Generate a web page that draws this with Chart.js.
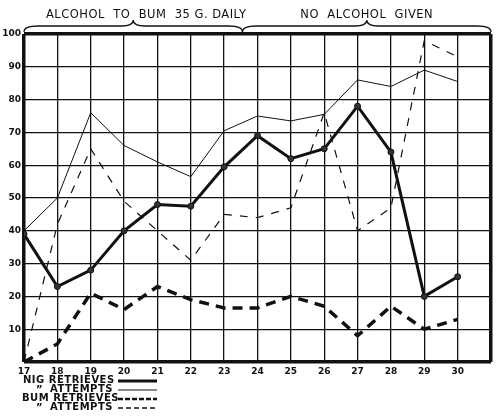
<!DOCTYPE html>
<html>
<head>
<meta charset="utf-8">
<script src="https://cdn.jsdelivr.net/npm/chart.js@4"></script>
<style>
    html, body { margin: 0; padding: 0; background: #fff; }
    #wrap { width: 500px; height: 416px; position: relative; }
</style>
</head>
<body>
<div id="wrap"><canvas id="chartPerros"></canvas></div>
<script>
// ===== DATOS =====
const dias = [17, 18, 19, 20, 21, 22, 23, 24, 25, 26, 27, 28, 29, 30];
const nigRetrieves = [39, 23, 28, 40, 48, 47.5, 59.5, 69, 62, 65, 78, 64, 20, 26];
const nigAttempts = [40, 50, 76, 66, 61, 56.5, 70.5, 75, 73.5, 75.5, 86, 84, 89, 85.5];
const bumRetrieves = [0, 5.5, 21, 16, 23, 19, 16.5, 16.5, 20, 17, 8, 17, 10, 13];
const bumAttempts = [0, 42, 65, 49, 40, 31, 45, 44, 47, 76, 40, 47, 98, 93];

const periodos = ['ALCOHOL  TO  BUM  35 G. DAILY', 'NO  ALCOHOL  GIVEN'];
const periodoRangos = [[17, 23.55], [23.55, 31]];
const leyenda = ['NIG RETRIEVES', 'ATTEMPTS', 'BUM RETRIEVES', 'ATTEMPTS'];

const FUENTE = "'DejaVu Sans', sans-serif";

function puntos(valores) {
    return dias.map((d, i) => ({ x: d, y: valores[i] }));
}

// ===== LLAVES + LEYENDA =====
function dibujarLlave(ctx, x1, x2, xm, base, punta, fin) {
    ctx.beginPath();
    ctx.moveTo(x1, fin);
    ctx.quadraticCurveTo(x1, base, x1 + 14, base);
    ctx.lineTo(xm - 12, base);
    ctx.quadraticCurveTo(xm, base, xm, punta);
    ctx.quadraticCurveTo(xm, base, xm + 12, base);
    ctx.lineTo(x2 - 14, base);
    ctx.quadraticCurveTo(x2, base, x2, fin);
    ctx.stroke();
}

const extrasPlugin = {
    id: 'extras',
    afterDraw(chart) {
        const ctx = chart.ctx;
        const xs = chart.scales.x;
        ctx.save();
        ctx.strokeStyle = '#111';
        ctx.fillStyle = '#111';
        ctx.lineWidth = 1.3;

        // llaves de los periodos
        periodoRangos.forEach((r, i) => {
            const x1 = xs.getPixelForValue(r[0]);
            const x2 = xs.getPixelForValue(r[1]);
            const xm = (x1 + x2) / 2;
            dibujarLlave(ctx, x1, x2, xm, 26, 20, 32);
            ctx.font = '11.5px ' + FUENTE;
            ctx.letterSpacing = '0.5px';
            ctx.textAlign = 'center';
            ctx.textBaseline = 'middle';
            ctx.fillText(periodos[i], xm + (i === 0 ? 13 : 0), 15);
        });

        // leyenda
        const filas = [
            { y: 380, tx: 23, ancho: 3, dash: [] },
            { y: 389, tx: 50, ancho: 1, dash: [] , ditto: true },
            { y: 398, tx: 22, ancho: 2.5, dash: [5, 2] },
            { y: 407, tx: 50, ancho: 1.5, dash: [5, 3], ditto: true }
        ];
        ctx.font = 'bold 10px ' + FUENTE;
        ctx.letterSpacing = '0.5px';
        ctx.textAlign = 'left';
        ctx.textBaseline = 'middle';
        filas.forEach((f, i) => {
            ctx.fillText(leyenda[i], f.tx, f.y);
            if (f.ditto) ctx.fillText('\u201D', 36, f.y + 1);
            ctx.beginPath();
            ctx.lineWidth = f.ancho;
            ctx.setLineDash(f.dash);
            ctx.moveTo(118, f.y + 1);
            ctx.lineTo(157, f.y + 1);
            ctx.stroke();
        });
        ctx.restore();
    }
};

// ===== GRAFICO =====
function crearGrafico() {
    const ctx = document.getElementById('chartPerros').getContext('2d');

    new Chart(ctx, {
        type: 'line',
        data: {
            datasets: [
                {
                    label: 'NIG RETRIEVES',
                    data: puntos(nigRetrieves),
                    borderColor: '#111',
                    borderWidth: 3,
                    pointRadius: 3,
                    pointBackgroundColor: '#333',
                    pointBorderColor: '#111',
                    pointBorderWidth: 1
                },
                {
                    label: 'NIG ATTEMPTS',
                    data: puntos(nigAttempts),
                    borderColor: '#111',
                    borderWidth: 1,
                    pointRadius: 0
                },
                {
                    label: 'BUM RETRIEVES',
                    data: puntos(bumRetrieves),
                    borderColor: '#111',
                    borderWidth: 3.5,
                    borderDash: [10, 7],
                    pointRadius: 0
                },
                {
                    label: 'BUM ATTEMPTS',
                    data: puntos(bumAttempts),
                    borderColor: '#111',
                    borderWidth: 1.2,
                    borderDash: [8, 8],
                    pointRadius: 0
                }
            ]
        },
        options: {
            responsive: true,
            maintainAspectRatio: false,
            animation: false,
            layout: { padding: { top: 34, right: 9, left: 0, bottom: 0 } },
            plugins: {
                legend: { display: false },
                tooltip: { enabled: false }
            },
            scales: {
                x: {
                    type: 'linear',
                    min: 17,
                    max: 31,
                    afterFit(scale) { scale.height = 54; },
                    border: { display: false },
                    grid: {
                        color: '#111',
                        drawTicks: false,
                        lineWidth: c => (c.tick.value === 17 || c.tick.value === 31) ? 3.5 : 1.3
                    },
                    ticks: {
                        stepSize: 1,
                        padding: 4,
                        color: '#111',
                        font: { family: FUENTE, size: 9, weight: 'bold' },
                        callback: v => v === 31 ? '' : v
                    }
                },
                y: {
                    min: 0,
                    max: 100,
                    afterFit(scale) { scale.width = 24; },
                    border: { display: false },
                    grid: {
                        color: '#111',
                        drawTicks: false,
                        lineWidth: c => (c.tick.value === 0 || c.tick.value === 100) ? 3.5 : 1.3
                    },
                    ticks: {
                        stepSize: 10,
                        padding: 3,
                        color: '#111',
                        font: { family: FUENTE, size: 9, weight: 'bold' },
                        callback: v => v === 0 ? '' : v
                    }
                }
            }
        },
        plugins: [extrasPlugin]
    });
}

document.addEventListener('DOMContentLoaded', crearGrafico);
</script>
</body>
</html>
